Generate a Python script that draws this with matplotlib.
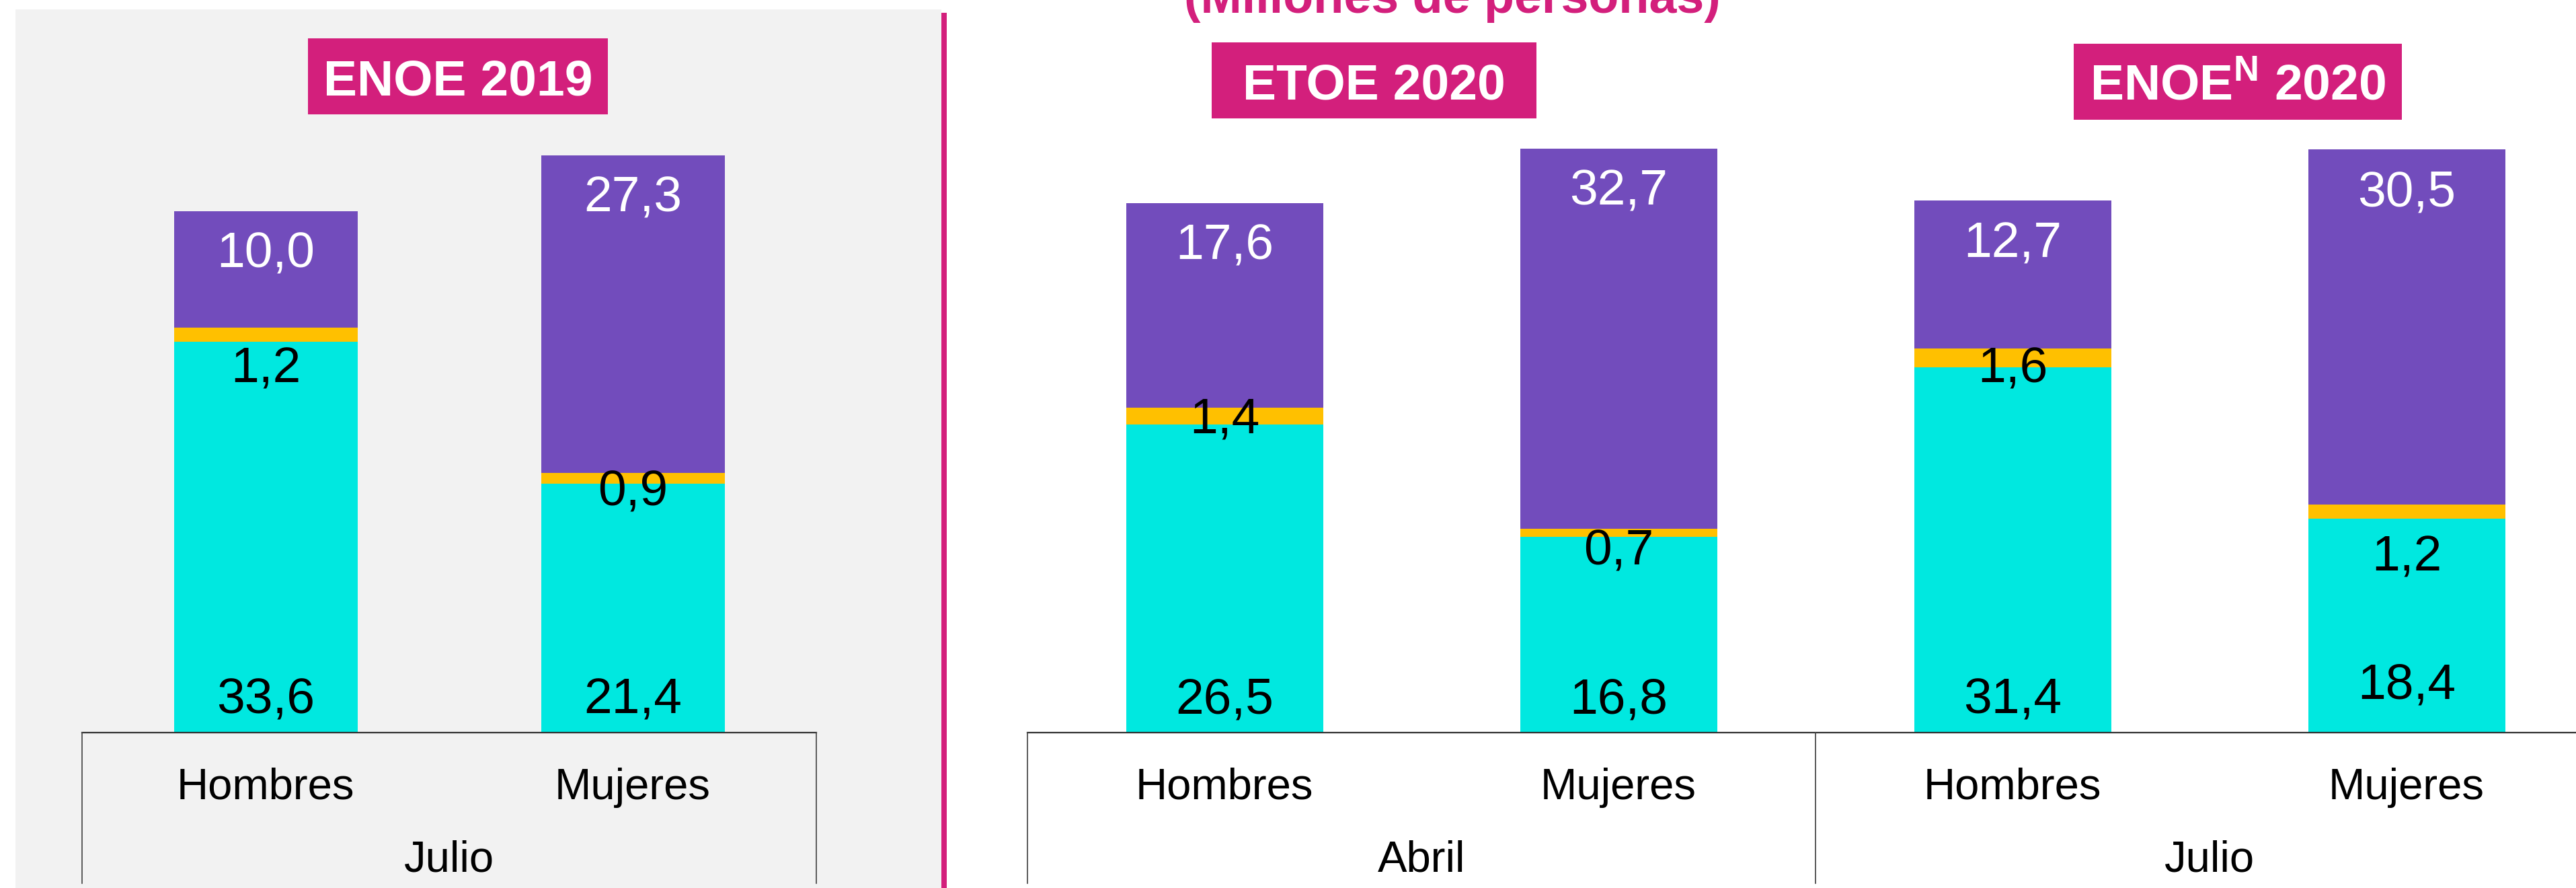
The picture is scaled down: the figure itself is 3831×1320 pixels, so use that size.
import matplotlib
matplotlib.use("Agg")
import matplotlib.pyplot as plt
from matplotlib.patches import Rectangle

plt.rcParams['font.family'] = ['Liberation Sans', 'DejaVu Sans']
plt.rcParams['mathtext.fontset'] = 'custom'
plt.rcParams['mathtext.bf'] = 'Liberation Sans:bold'
plt.rcParams['mathtext.rm'] = 'Liberation Sans:bold'

# datos (millones de personas)
sexos = ['Hombres', 'Mujeres']
periodos_2019 = ['Julio']
periodos_2020 = ['Abril', 'Julio']
encuestas = ['ENOE 2019', 'ETOE 2020', r'ENOE$^{\mathbf{N}}$ 2020']

ocupados_2019 = [33.6, 21.4]
desocupados_2019 = [1.2, 0.9]
pnea_2019 = [10.0, 27.3]

ocupados_2020 = [26.5, 16.8, 31.4, 18.4]
desocupados_2020 = [1.4, 0.7, 1.6, 1.2]
pnea_2020 = [17.6, 32.7, 12.7, 30.5]

titulo = '(Millones de personas)'

c_ocup = '#00E8E0'
c_deso = '#FFC000'
c_pnea = '#724CBC'
rosa = '#D31F7C'

W, H = 3831, 1320
fig = plt.figure(figsize=(W / 100, H / 100), dpi=100)

def fx(px):
    return px / W

def fy(py):
    return 1 - py / H

base_px = 1089
escala = 17.3      # px por millon
ymax = 52
ax_h = ymax * escala

# fondo gris del panel 2019 y linea rosa
fig.patches.append(Rectangle((fx(23), 0), fx(1400) - fx(23), fy(14), transform=fig.transFigure,
                             facecolor='#F2F2F2', edgecolor='none', zorder=-2))
fig.patches.append(Rectangle((fx(1400), 0), fx(8), fy(19), transform=fig.transFigure,
                             facecolor=rosa, edgecolor='none', zorder=-1))

fig.text(fx(2160), fy(19), titulo, ha='center', va='baseline', fontsize=53,
         fontweight='bold', color=rosa)

# recuadros de titulo
cajas = [(458, 904, 57, 170, 142), (1802, 2285, 63, 176, 147), (3084, 3572, 65, 178, 149)]
for nombre, (x0, x1, y0, y1, yb) in zip(encuestas, cajas):
    fig.patches.append(Rectangle((fx(x0), fy(y1)), fx(x1 - x0), (y1 - y0) / H,
                                 transform=fig.transFigure, facecolor=rosa, edgecolor='none'))
    fig.text(fx((x0 + x1) / 2), fy(yb), nombre, ha='center', va='baseline', fontsize=54,
             fontweight='bold', color='white')


def panel(ax, ocup, deso, pnea, periodos, baja_deso, sube_ocup):
    n = len(ocup)
    x = list(range(n))
    ax.bar(x, ocup, width=0.5, color=c_ocup)
    ax.bar(x, deso, width=0.5, bottom=ocup, color=c_deso)
    tope = [a + b for a, b in zip(ocup, deso)]
    ax.bar(x, pnea, width=0.5, bottom=tope, color=c_pnea)
    ax.set_xlim(-0.5, n - 0.5)
    ax.set_ylim(0, ymax)
    ax.axis('off')
    for i in range(n):
        fmt = lambda v: f'{v:.1f}'.replace('.', ',')
        ax.annotate(fmt(ocup[i]), (x[i], 0), xytext=(0, 28 + sube_ocup[i]), textcoords='offset pixels',
                    ha='center', va='baseline', fontsize=54, color='black')
        ax.annotate(fmt(deso[i]), (x[i], tope[i]), xytext=(0, -baja_deso[i]), textcoords='offset pixels',
                    ha='center', va='baseline', fontsize=54, color='black')
        ax.annotate(fmt(pnea[i]), (x[i], tope[i] + pnea[i]), xytext=(0, -84), textcoords='offset pixels',
                    ha='center', va='baseline', fontsize=54, color='white')

    tr = ax.get_xaxis_transform()
    ay = lambda py: (base_px - py) / ax_h
    ax.plot([-0.5, n - 0.5], [0, 0], color='#303030', lw=1.6, transform=tr, clip_on=False)
    for k in range(len(periodos) + 1):
        xb = -0.5 + 2 * k
        ax.plot([xb, xb], [0, ay(1313)], color='#404040', lw=1.2, transform=tr, clip_on=False)
    for i in range(n):
        ax.text(x[i], ay(1188), sexos[i % 2], ha='center', va='baseline', fontsize=47,
                transform=tr)
    for k, p in enumerate(periodos):
        ax.text(0.5 + 2 * k, ay(1296), p, ha='center', va='baseline', fontsize=47, transform=tr)


ax1 = fig.add_axes([fx(122), fy(base_px), fx(1092), ax_h / H])
ax1.patch.set_visible(False)
panel(ax1, ocupados_2019, desocupados_2019, pnea_2019, periodos_2019,
      baja_deso=[82, 48], sube_ocup=[0, 0])

ax2 = fig.add_axes([fx(1528), fy(base_px), fx(2344), ax_h / H])
ax2.patch.set_visible(False)
panel(ax2, ocupados_2020, desocupados_2020, pnea_2020, periodos_2020,
      baja_deso=[37, 53, 50, 99], sube_ocup=[0, 0, 0, 23])

fig.savefig('out.png', dpi=100)
